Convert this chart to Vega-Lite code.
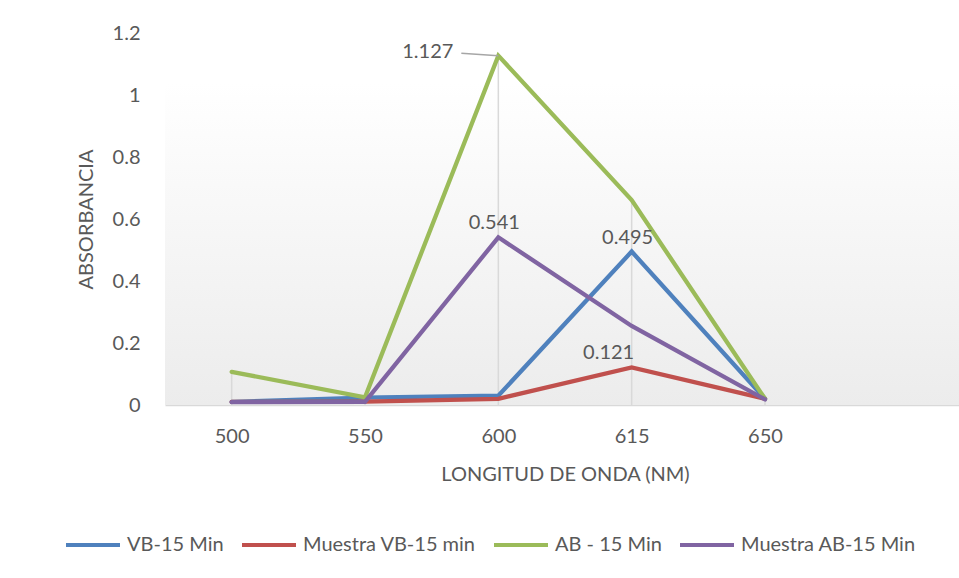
{
  "$schema": "https://vega.github.io/schema/vega-lite/v6.json",
  "autosize": "none",
  "padding": {"left": 165, "top": 33, "right": 0, "bottom": 173},
  "width": 800,
  "height": 372,
  "background": "#ffffff",
  "config": {
    "font": "Lato",
    "view": {"stroke": null},
    "axis": {"labelFont": "Lato", "titleFont": "Lato", "labelColor": "#595959", "titleColor": "#595959", "labelFontSize": 20, "titleFontSize": 20, "titleFontWeight": "normal"},
    "legend": {"labelFont": "Lato", "labelColor": "#595959", "labelFontSize": 20, "labelLimit": 400}
  },
  "datasets": {
    "series": [
      {"serie": "VB-15 Min", "x": "500", "value": 0.01},
      {"serie": "VB-15 Min", "x": "550", "value": 0.024},
      {"serie": "VB-15 Min", "x": "600", "value": 0.03},
      {"serie": "VB-15 Min", "x": "615", "value": 0.495},
      {"serie": "VB-15 Min", "x": "650", "value": 0.02},
      {"serie": "Muestra VB-15 min", "x": "500", "value": 0.01},
      {"serie": "Muestra VB-15 min", "x": "550", "value": 0.011},
      {"serie": "Muestra VB-15 min", "x": "600", "value": 0.02},
      {"serie": "Muestra VB-15 min", "x": "615", "value": 0.121},
      {"serie": "Muestra VB-15 min", "x": "650", "value": 0.02},
      {"serie": "AB - 15 Min", "x": "500", "value": 0.107},
      {"serie": "AB - 15 Min", "x": "550", "value": 0.025},
      {"serie": "AB - 15 Min", "x": "600", "value": 1.127},
      {"serie": "AB - 15 Min", "x": "615", "value": 0.661},
      {"serie": "AB - 15 Min", "x": "650", "value": 0.02},
      {"serie": "Muestra AB-15 Min", "x": "500", "value": 0.009},
      {"serie": "Muestra AB-15 Min", "x": "550", "value": 0.01},
      {"serie": "Muestra AB-15 Min", "x": "600", "value": 0.541},
      {"serie": "Muestra AB-15 Min", "x": "615", "value": 0.255},
      {"serie": "Muestra AB-15 Min", "x": "650", "value": 0.018}
    ],
    "labels": [
      {"serie": "AB - 15 Min", "x": "600", "value": 1.127, "text": "1.127"},
      {"serie": "Muestra AB-15 Min", "x": "600", "value": 0.541, "text": "0.541"},
      {"serie": "VB-15 Min", "x": "615", "value": 0.495, "text": "0.495"},
      {"serie": "Muestra VB-15 min", "x": "615", "value": 0.121, "text": "0.121"}
    ]
  },
  "layer": [
    {
      "data": {"values": [{"a": 1}]},
      "mark": {"type": "rect", "fill": {"gradient": "linear", "x1": 0, "y1": 0, "x2": 0, "y2": 1, "stops": [{"offset": 0, "color": "#ffffff"}, {"offset": 1, "color": "#ececec"}]}},
      "encoding": {"y": {"datum": 0, "type": "quantitative"}, "y2": {"datum": 1.04}}
    },
    {
      "data": {"name": "series"},
      "transform": [{"aggregate": [{"op": "max", "field": "value", "as": "maxv"}], "groupby": ["x"]}],
      "mark": {"type": "rule", "color": "#d9d9d9", "strokeWidth": 1.5},
      "encoding": {
        "x": {"field": "x", "type": "nominal"},
        "y": {"field": "maxv", "type": "quantitative"},
        "y2": {"datum": 0}
      }
    },
    {
      "data": {"name": "series"},
      "mark": {"type": "line", "strokeWidth": 4.3, "strokeCap": "round"},
      "encoding": {
        "x": {"field": "x", "type": "nominal", "scale": {"type": "point", "padding": 0.5, "domain": ["500", "550", "600", "615", "650", " "]}, "axis": {"title": "LONGITUD DE ONDA (NM)", "labelAngle": 0, "labelAlign": "center", "labelBaseline": "top", "ticks": false, "domainColor": "#d9d9d9", "domainWidth": 1.5, "grid": false, "labelPadding": 21, "titlePadding": 18}},
        "y": {"field": "value", "type": "quantitative", "scale": {"domain": [0, 1.2], "nice": false}, "axis": {"title": "ABSORBANCIA", "values": [0, 0.2, 0.4, 0.6, 0.8, 1, 1.2], "format": "~g", "grid": false, "domain": false, "ticks": false, "labelPadding": 25, "titlePadding": 16}},
        "color": {"field": "serie", "type": "nominal", "sort": ["VB-15 Min", "Muestra VB-15 min", "AB - 15 Min", "Muestra AB-15 Min"], "scale": {"domain": ["VB-15 Min", "Muestra VB-15 min", "AB - 15 Min", "Muestra AB-15 Min"], "range": ["#4f81bd", "#c0504d", "#9bbb59", "#8064a2"]}, "legend": {"title": null, "orient": "none", "direction": "horizontal", "columns": 4, "legendX": -101, "legendY": 483, "symbolType": "stroke", "symbolSize": 2916, "symbolStrokeWidth": 4, "columnPadding": 10, "labelOffset": 5}},
        "order": {"field": "x"}
      }
    },
    {
      "data": {"values": [{"a": 1}]},
      "mark": {"type": "rule", "color": "#a6a6a6", "strokeWidth": 1.5, "xOffset": -37},
      "encoding": {"x": {"datum": "600", "type": "nominal"}, "y": {"datum": 1.135, "type": "quantitative"}, "x2": {"datum": "600"}, "y2": {"datum": 1.127}}
    },
    {
      "data": {"name": "labels"},
      "transform": [{"filter": "datum.text == '1.127'"}],
      "mark": {"type": "text", "align": "right", "baseline": "middle", "dx": -45, "dy": -4, "fontSize": 20, "color": "#595959"},
      "encoding": {"x": {"field": "x", "type": "nominal"}, "y": {"field": "value", "type": "quantitative"}, "text": {"field": "text"}}
    },
    {
      "data": {"name": "labels"},
      "transform": [{"filter": "datum.text == '0.541' || datum.text == '0.495'"}],
      "mark": {"type": "text", "align": "center", "baseline": "alphabetic", "dx": -4, "dy": -8, "fontSize": 20, "color": "#595959"},
      "encoding": {"x": {"field": "x", "type": "nominal"}, "y": {"field": "value", "type": "quantitative"}, "text": {"field": "text"}}
    },
    {
      "data": {"name": "labels"},
      "transform": [{"filter": "datum.text == '0.121'"}],
      "mark": {"type": "text", "align": "center", "baseline": "alphabetic", "dx": -23, "dy": -8, "fontSize": 20, "color": "#595959"},
      "encoding": {"x": {"field": "x", "type": "nominal"}, "y": {"field": "value", "type": "quantitative"}, "text": {"field": "text"}}
    }
  ]
}
